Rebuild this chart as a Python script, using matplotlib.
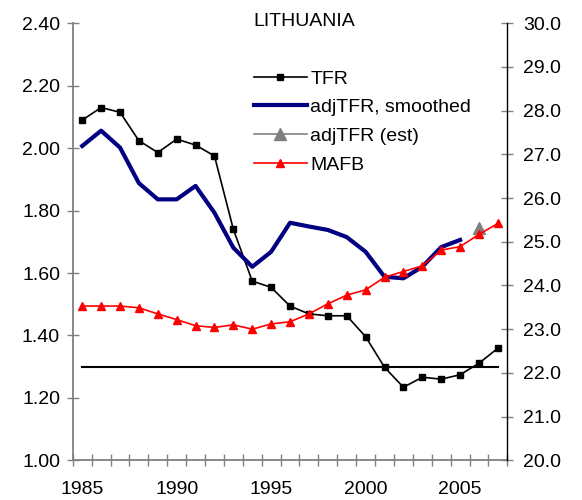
import numpy as np
import matplotlib
matplotlib.use("Agg")
import matplotlib.pyplot as plt
from matplotlib.ticker import FixedLocator, FormatStrFormatter

plt.rcParams['font.family'] = ['Liberation Sans', 'DejaVu Sans']

# data
years = list(range(1985, 2008))
tfr = [2.09, 2.13, 2.115, 2.024, 1.986, 2.029, 2.01, 1.975, 1.74, 1.574,
       1.554, 1.494, 1.469, 1.463, 1.463, 1.396, 1.298, 1.234, 1.266, 1.26,
       1.274, 1.311, 1.359]
adj_tfr_smoothed = [2.007, 2.056, 2.002, 1.888, 1.836, 1.836, 1.879, 1.793, 1.681, 1.62,
                    1.668, 1.761, 1.749, 1.738, 1.715, 1.668, 1.588, 1.583, 1.62, 1.683,
                    1.706]
adj_tfr_est_year = [2006]
adj_tfr_est = [1.743]
mafb = [23.53, 23.53, 23.53, 23.49, 23.35, 23.22, 23.08, 23.04, 23.10, 23.00,
        23.12, 23.17, 23.35, 23.58, 23.78, 23.90, 24.19, 24.32, 24.45, 24.81,
        24.89, 25.17, 25.42]
ref_level = 1.30
left_ticks = [1.0, 1.2, 1.4, 1.6, 1.8, 2.0, 2.2, 2.4]
right_ticks = [20, 21, 22, 23, 24, 25, 26, 27, 28, 29, 30]
label_years = [1985, 1990, 1995, 2000, 2005]

x = np.arange(len(years))
x_smooth = x[:len(adj_tfr_smoothed)]
x_est = [years.index(y) for y in adj_tfr_est_year]

fig = plt.figure(figsize=(5.82, 5.0), dpi=100)
ax = fig.add_axes([0.125, 0.0794, 0.7467, 0.874])
ax2 = ax.twinx()

grey = '#808080'
h_tfr, = ax.plot(x, tfr, color='black', lw=1.2, marker='s', ms=4.6, label='TFR')
h_adj, = ax.plot(x_smooth, adj_tfr_smoothed, color='#000080', lw=3.0,
                 label='adjTFR, smoothed')
h_est, = ax.plot(x_est, adj_tfr_est, color=grey, lw=1.2, marker='^', ms=8,
                 linestyle='-', label='adjTFR (est)')
ax.plot([x[0], x[-1]], [ref_level, ref_level], color='black', lw=1.5)
h_mafb, = ax2.plot(x, mafb, color='#ff0000', lw=1.2, marker='^', ms=5.6, label='MAFB')

ax.set_xlim(-0.5, len(years) - 0.5)
ax.set_ylim(1.0, 2.4)
ax2.set_ylim(20, 30)

ax.yaxis.set_major_locator(FixedLocator(left_ticks))
ax.yaxis.set_major_formatter(FormatStrFormatter('%.2f'))
ax2.yaxis.set_major_locator(FixedLocator(right_ticks))
ax2.yaxis.set_major_formatter(FormatStrFormatter('%.1f'))

ax.set_xticks([years.index(y) for y in label_years])
ax.set_xticklabels([str(y) for y in label_years])
ax.xaxis.set_minor_locator(FixedLocator(np.arange(-0.5, len(years), 1.0)))

ax.tick_params(axis='x', which='major', length=0, pad=15, labelsize=14)
ax.tick_params(axis='x', which='minor', direction='inout', length=8.4, width=1.0, color=grey)
ax.tick_params(axis='y', direction='inout', length=8.4, width=1.0, color=grey,
               pad=4.9, labelsize=14)
ax2.tick_params(axis='y', direction='inout', length=8.4, width=1.0, color=grey,
                pad=7.3, labelsize=14)

for a in (ax, ax2):
    a.spines['top'].set_visible(False)
ax.spines['left'].set_color(grey)
ax.spines['left'].set_linewidth(1.3)
ax.spines['bottom'].set_color(grey)
ax.spines['bottom'].set_linewidth(1.3)
ax.spines['right'].set_visible(False)
ax2.spines['left'].set_visible(False)
ax2.spines['bottom'].set_visible(False)
ax2.spines['right'].set_color('black')
ax2.spines['right'].set_linewidth(1.0)

fig.text(304 / 582, 1 - 22 / 500, 'LITHUANIA', ha='center', va='center', fontsize=14)

ax2.legend(handles=[h_tfr, h_adj, h_est, h_mafb], loc='upper left',
           bbox_to_anchor=(254 / 582, 1 - 70 / 500), bbox_transform=fig.transFigure,
           frameon=False, fontsize=14, handlelength=2.7, handletextpad=0.2,
           labelspacing=0.57, borderpad=0, borderaxespad=0)

fig.savefig('out.png', dpi=100)
